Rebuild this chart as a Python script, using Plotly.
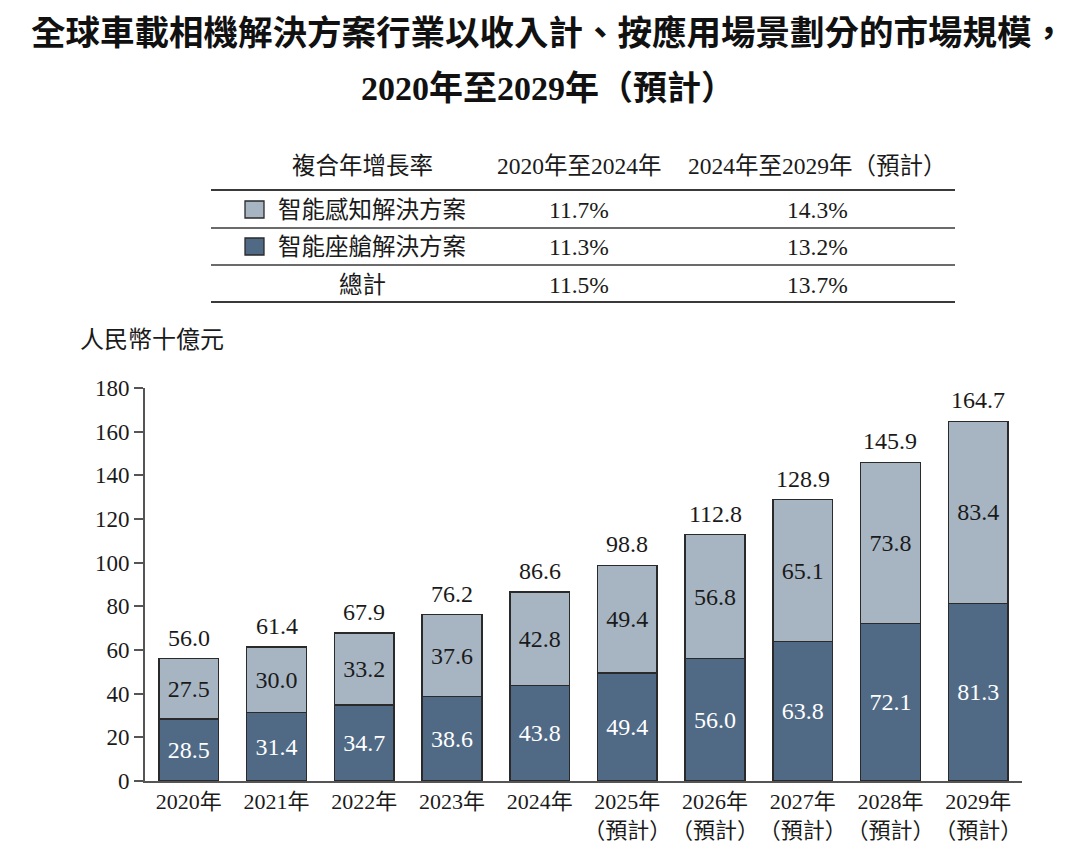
import plotly.graph_objects as go

categories = ["2020年", "2021年", "2022年", "2023年", "2024年",
              "2025年<br>（預計）", "2026年<br>（預計）", "2027年<br>（預計）",
              "2028年<br>（預計）", "2029年<br>（預計）"]
cockpit = [28.5, 31.4, 34.7, 38.6, 43.8, 49.4, 56.0, 63.8, 72.1, 81.3]
perception = [27.5, 30.0, 33.2, 37.6, 42.8, 49.4, 56.8, 65.1, 73.8, 83.4]
totals = [56.0, 61.4, 67.9, 76.2, 86.6, 98.8, 112.8, 128.9, 145.9, 164.7]

table_header = ["複合年增長率", "2020年至2024年", "2024年至2029年（預計）"]
table_rows = [
    ["智能感知解決方案", "11.7%", "14.3%"],
    ["智能座艙解決方案", "11.3%", "13.2%"],
    ["總計", "11.5%", "13.7%"],
]

LIGHT = "#a7b5c3"
DARK = "#506a86"
EDGE = "#2a2a2a"
TXT = "#1a1a1a"
FONT = "Liberation Serif, Noto Sans CJK TC, serif"
TFONT = "Noto Sans CJK TC, sans-serif"

W, H = 1080, 865
ML, MR, MT, MB = 145, 58, 388, 84
PW, PH = W - ML - MR, H - MT - MB


def px(x):
    return (x - ML) / PW


def py(y):
    return (H - MB - y) / PH


fig = go.Figure()
fig.add_trace(go.Bar(
    x=categories, y=cockpit, name="智能座艙解決方案",
    marker=dict(color=DARK, line=dict(color=EDGE, width=1.5)),
    text=[f"{v:.1f}" for v in cockpit], textposition="inside",
    insidetextanchor="middle", constraintext="none",
    textfont=dict(family=FONT, size=24, color="white"),
))
fig.add_trace(go.Bar(
    x=categories, y=perception, name="智能感知解決方案",
    marker=dict(color=LIGHT, line=dict(color=EDGE, width=1.5)),
    text=[f"{v:.1f}" for v in perception], textposition="inside",
    insidetextanchor="middle", constraintext="none",
    textfont=dict(family=FONT, size=24, color=TXT),
))

annotations = []
shapes = []

# Totals above bars
for c, t in zip(categories, totals):
    annotations.append(dict(x=c, y=t, xref="x", yref="y", text=f"{t:.1f}", showarrow=False,
                            xanchor="center", yanchor="bottom", yshift=6,
                            font=dict(family=FONT, size=24, color=TXT)))

# Title
annotations.append(dict(text="<b>全球車載相機解決方案行業以收入計、按應用場景劃分的市場規模，</b>",
                        x=px(548), y=py(30), xref="paper", yref="paper", showarrow=False,
                        xanchor="center", yanchor="middle",
                        font=dict(family=TFONT, size=34.5, color="#111")))
annotations.append(dict(text="<b>2020年至2029年（預計）</b>",
                        x=px(548), y=py(88), xref="paper", yref="paper", showarrow=False,
                        xanchor="center", yanchor="middle",
                        font=dict(family="Liberation Serif, Noto Sans CJK TC", size=34, color="#111")))

# Y axis title
annotations.append(dict(text="人民幣十億元", x=px(78), y=py(340), xref="paper", yref="paper",
                        xanchor="left", yanchor="middle", showarrow=False,
                        font=dict(family=FONT, size=24, color=TXT)))

# Table
col_x = [362, 579, 817]
hdr_y = 166
row_y = [210, 247, 285]
line_y = [190, 228, 265, 302]
line_w = [2.2, 1.6, 1.6, 2.2]
tfs = 23.5
for i, h in enumerate(table_header):
    annotations.append(dict(text=h, x=px(col_x[i]), y=py(hdr_y), xref="paper", yref="paper",
                            xanchor="center", yanchor="middle",
                            showarrow=False, font=dict(family=FONT, size=tfs, color=TXT)))
for yl, lw in zip(line_y, line_w):
    shapes.append(dict(type="line", xref="paper", yref="paper", x0=px(211), x1=px(955),
                       y0=py(yl), y1=py(yl), line=dict(color="#3a3a3a", width=lw)))
sq_colors = [LIGHT, DARK, None]
for r, row in enumerate(table_rows):
    if sq_colors[r]:
        shapes.append(dict(type="rect", xref="paper", yref="paper",
                           x0=px(245), x1=px(264), y0=py(row_y[r] - 9), y1=py(row_y[r] + 8),
                           fillcolor=sq_colors[r], line=dict(color=EDGE, width=1.3)))
        annotations.append(dict(text=row[0], x=px(276), y=py(row_y[r]), xref="paper", yref="paper",
                                xanchor="left", yanchor="middle", showarrow=False,
                                font=dict(family=FONT, size=tfs, color=TXT)))
    else:
        annotations.append(dict(text=row[0], x=px(362), y=py(row_y[r]), xref="paper", yref="paper",
                                xanchor="center", yanchor="middle",
                                showarrow=False, font=dict(family=FONT, size=tfs, color=TXT)))
    for c in (1, 2):
        annotations.append(dict(text=row[c], x=px(col_x[c]), y=py(row_y[r]), xref="paper", yref="paper",
                                xanchor="center", yanchor="middle",
                                showarrow=False, font=dict(family=FONT, size=tfs, color=TXT)))

fig.update_layout(
    width=W, height=H, barmode="stack", bargap=0.32,
    margin=dict(l=ML, r=MR, t=MT, b=MB),
    plot_bgcolor="white", paper_bgcolor="white",
    showlegend=False,
    annotations=annotations, shapes=shapes,
    xaxis=dict(showline=True, linecolor="#555", linewidth=1.5, ticks="", tickangle=0,
               tickfont=dict(family=FONT, size=22, color=TXT), showgrid=False),
    yaxis=dict(range=[0, 180], dtick=20, showline=True, linecolor="#555", linewidth=1.8,
               ticks="outside", ticklen=9, tickcolor="#555", tickwidth=1.5, showgrid=False,
               zeroline=False, tickfont=dict(family=FONT, size=23, color=TXT)),
)

fig.write_html("out.html", config={"displayModeBar": False},
               post_script="document.body.style.margin='0px';document.body.style.overflow='hidden';")
